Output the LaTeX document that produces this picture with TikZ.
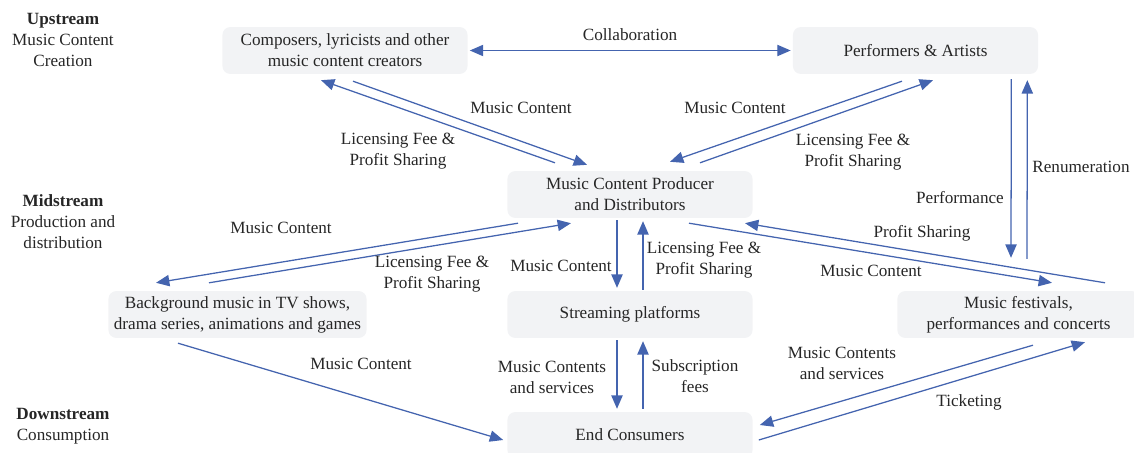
\documentclass[tikz,border=0pt]{standalone}
\usepackage{fontspec}
\setmainfont{Liberation Serif}
\usetikzlibrary{arrows.meta,calc}
\definecolor{boxfill}{HTML}{F2F3F5}
\definecolor{arrowblue}{HTML}{4464AF}
\definecolor{txt}{HTML}{262626}
\tikzset{
  every node/.style={font=\rmfamily\fontsize{12.2}{14.9}\selectfont, text=txt, inner sep=0pt, align=center},
  box/.style={fill=boxfill, rounded corners=5.5pt, minimum width=174.3pt, minimum height=33.3pt},
  lbl/.style={},
  arr/.style={draw=arrowblue, line width=0.9pt, -{Triangle[length=9.5pt,width=8pt]}},
  darr/.style={draw=arrowblue, line width=0.9pt, {Triangle[length=9.5pt,width=8pt]}-{Triangle[length=9.5pt,width=8pt]}}
}
\begin{document}
\begin{tikzpicture}[x=0.025cm,y=-0.025cm]
\useasboundingbox (0,0) rectangle (1134,453);
% boxes
\node[box] (comp) at (345,50.5) {Composers, lyricists and other\\music content creators};
\node[box] (perf) at (915.5,50.5) {Performers \& Artists};
\node[box] (prod) at (630,194.5) {Music Content Producer\\and Distributors};
\node[box, minimum width=183.5pt] (bg) at (237.5,314.5) {Background music in TV shows,\\drama series, animations and games};
\node[box] (stream) at (630,314.5) {Streaming platforms};
\node[box, minimum width=172.2pt] (fest) at (1018.5,314.5) {Music festivals,\\performances and concerts};
\node[box, minimum height=32.6pt] (ec) at (630,435) {End Consumers};
% stage labels
\node (up) at (63,40) {\textbf{Upstream}\\Music Content\\Creation};
\node (mid) at (63,222) {\textbf{Midstream}\\Production and\\distribution};
\node (down) at (63,426) {\textbf{Downstream}\\Consumption};
% connectors
\draw[darr] ($(comp.east)+(2,0)$) -- ($(perf.west)+(-2,0)$);
\draw[arr] ($(comp.south)+(8,7)$) -- ($(prod.north)+(-43,-6)$);
\draw[arr] ($(prod.north)+(-75,-8)$) -- ($(comp.south)+(-24,6)$);
\draw[arr] ($(perf.south)+(-13.5,7)$) -- ($(prod.north)+(40,-9)$);
\draw[arr] ($(prod.north)+(70,-8)$) -- ($(perf.south)+(17.5,6)$);
\draw[arr] ($(perf.south east)+(-27,5)$) -- ($(fest.north)+(-7.5,-33)$);
\draw[arr] ($(fest.north)+(8.5,-32)$) -- ($(perf.south east)+(-11,6)$);
\draw[arr] ($(prod.south)+(-112,5)$) -- ($(bg.north)+(-81.5,-8)$);
\draw[arr] ($(bg.north)+(-28.5,-8)$) -- ($(prod.south)+(-59,5)$);
\draw[arr] ($(prod.south)+(-13,2)$) -- ($(stream.north)+(-13,-3)$);
\draw[arr] ($(stream.north)+(13,-1)$) -- ($(prod.south)+(13,3)$);
\draw[arr] ($(prod.south)+(59,5)$) -- ($(fest.north)+(33.5,-8)$);
\draw[arr] ($(fest.north)+(86.5,-8)$) -- ($(prod.south)+(115,5)$);
\draw[arr] ($(stream.south)+(-13,2)$) -- ($(ec.north)+(-13,-3)$);
\draw[arr] ($(ec.north)+(13,-3)$) -- ($(stream.south)+(13,3)$);
\draw[arr] ($(bg.south)+(-59.5,5)$) -- ($(ec.west)+(-4,5)$);
\draw[arr] ($(fest.south)+(14.5,7)$) -- ($(ec.east)+(7,-10)$);
\draw[arr] ($(ec.east)+(6,5)$) -- ($(fest.south)+(66.5,4)$);
% connector labels
\node[lbl] (l1) at (630,35) {Collaboration};
\node[lbl] (l2) at (521,107.5) {Music Content};
\node[lbl] (l3) at (398,151) {Licensing Fee \&\\Profit Sharing};
\node[lbl] (l4) at (735,107.5) {Music Content};
\node[lbl] (l5) at (853,152) {Licensing Fee \&\\Profit Sharing};
\node[lbl] (l6) at (960,198) {Performance};
\node[lbl] (l7) at (1081,167) {Renumeration};
\node[lbl] (l8) at (281,227.5) {Music Content};
\node[lbl] (l9) at (432,274) {Licensing Fee \&\\Profit Sharing};
\node[lbl] (l10) at (561,266) {Music Content};
\node[lbl] (l11) at (704,260.5) {Licensing Fee \&\\Profit Sharing};
\node[lbl] (l12) at (922,233.5) {Profit Sharing};
\node[lbl] (l13) at (871,271) {Music Content};
\node[lbl] (l14) at (552,377) {Music Contents\\and services};
\node[lbl] (l15) at (695,376) {Subscription\\fees};
\node[lbl] (l16) at (361,363.5) {Music Content};
\node[lbl] (l17) at (842,363.5) {Music Contents\\and services};
\node[lbl] (l18) at (969,402.5) {Ticketing};
\end{tikzpicture}
\end{document}
